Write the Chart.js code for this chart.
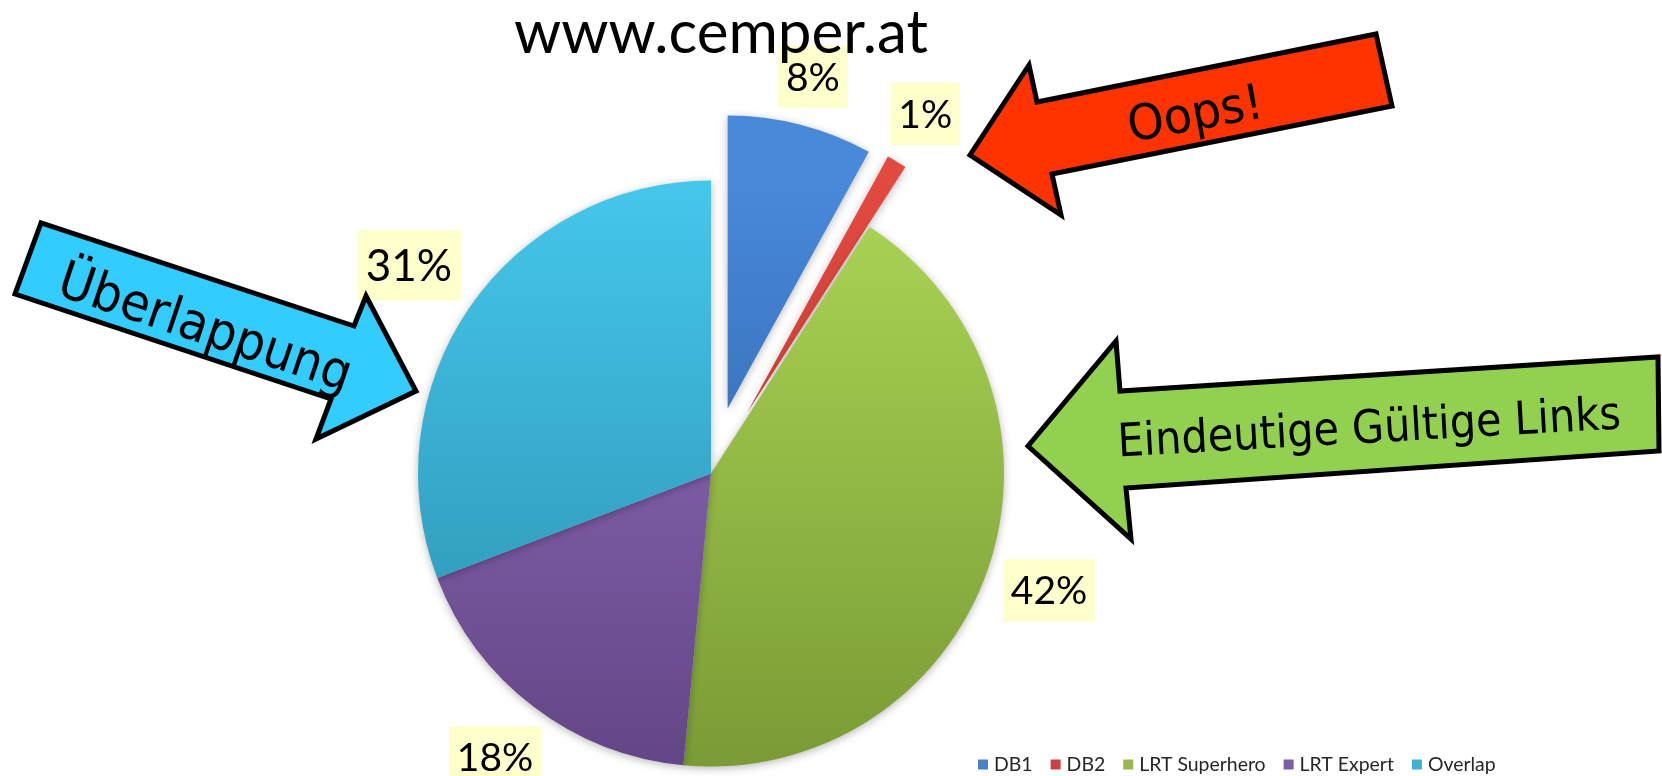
<!DOCTYPE html>
<html>
<head>
<meta charset="utf-8">
<script src="https://cdn.jsdelivr.net/npm/chart.js@4.4.1/dist/chart.umd.min.js"></script>
<style>
html,body{margin:0;padding:0;background:#fff;overflow:hidden;}
#c{display:block;}
</style>
</head>
<body>
<canvas id="c" width="1662" height="776"></canvas>
<script>
// ---- data ----
const chartTitle = 'www.cemper.at';
const categories = ['DB1', 'DB2', 'LRT Superhero', 'LRT Expert', 'Overlap'];
const shares = [8.0, 1.1, 42.4, 17.7, 30.8];

// ---- styles ----
const sliceTop    = ['#4889da', '#e24a40', '#acd656', '#9470c2', '#45c7ec'];
const sliceBottom = ['#285798', '#ae302a', '#7a9b35', '#634686', '#2a8dab'];
const legendColors = ['#4a80c6', '#c8433d', '#95b94c', '#7e5ea6', '#3fb0d0'];
const explode = [67, 70, 0, 0, 0];
const labelFont = [39, 39, 39, 39, 44];
const pieRadius = 293;

const arrows = [
  { text: 'Überlappung', fill: '#33CCFF',
    shape: [[41,223],[15,294],[331,399],[316,439],[416,391],[366,296],[354,326]],
    at: [200, 343], angle: 18.6, size: 52, width: 306 },
  { text: 'Oops!', fill: '#FF3300',
    shape: [[970,155],[1029,65],[1037,102],[1376,34],[1392,106],[1052,174],[1061,215]],
    at: [1198, 129.5], angle: -10.4, size: 49, width: 137 },
  { text: 'Eindeutige Gültige Links', fill: '#92D050',
    shape: [[1028,446],[1116,341],[1120,391],[1658,357],[1659,451],[1126,488],[1131,539]],
    at: [1370, 442.5], angle: -3.2, size: 46, width: 504 }
];

function sliceGradient(context) {
  const chart = context.chart;
  const area = chart.chartArea;
  const i = context.dataIndex;
  if (!area) return sliceTop[i];
  const cy = (area.top + area.bottom) / 2;
  const g = chart.ctx.createLinearGradient(0, cy - pieRadius, 0, cy + pieRadius);
  g.addColorStop(0, sliceTop[i]);
  g.addColorStop(1, sliceBottom[i]);
  return g;
}

const explodePlugin = {
  id: 'explodeSlices',
  afterDatasetUpdate(chart, args) {
    args.meta.data.forEach((arc, i) => {
      const d = explode[i] || 0;
      if (!d) return;
      const mid = (arc.startAngle + arc.endAngle) / 2;
      arc.x += Math.cos(mid) * d;
      arc.y += Math.sin(mid) * d;
    });
  }
};

const shadowPlugin = {
  id: 'sliceShadow',
  beforeDatasetDraw(chart) {
    const c = chart.ctx;
    c.save();
    c.shadowColor = 'rgba(0,0,0,0.28)';
    c.shadowBlur = 8;
    c.shadowOffsetY = 2;
  },
  afterDatasetDraw(chart) {
    chart.ctx.restore();
  }
};

const decorPlugin = {
  id: 'decor',
  afterDatasetsDraw(chart) {
    const c = chart.ctx;
    const meta = chart.getDatasetMeta(0);
    const total = shares.reduce((a, b) => a + b, 0);

    // percentage labels (outside end, yellow boxes)
    meta.data.forEach((arc, i) => {
      const p = arc.getProps(['x', 'y', 'startAngle', 'endAngle', 'outerRadius'], true);
      const mid = (p.startAngle + p.endAngle) / 2;
      const txt = Math.round(shares[i] / total * 100) + '%';
      const f = labelFont[i];
      c.save();
      c.font = f + 'px Lato';
      const tw = c.measureText(txt).width;
      const w = tw + f * 0.4, h = f * 1.6;
      const cs = Math.cos(mid), sn = Math.sin(mid);
      const d = p.outerRadius + 11 + Math.abs(cs) * w / 2 + Math.abs(sn) * h / 2;
      const cx = p.x + cs * d, cy = p.y + sn * d;
      c.fillStyle = '#FFFFCC';
      c.fillRect(cx - w / 2, cy - h / 2, w, h);
      c.fillStyle = '#000';
      c.textAlign = 'center';
      c.textBaseline = 'alphabetic';
      c.fillText(txt, cx, cy + f * 0.36);
      c.restore();
    });

    // arrows with text
    arrows.forEach(a => {
      c.save();
      c.beginPath();
      a.shape.forEach((pt, k) => k ? c.lineTo(pt[0], pt[1]) : c.moveTo(pt[0], pt[1]));
      c.closePath();
      c.fillStyle = a.fill;
      c.fill();
      c.lineWidth = 5;
      c.lineJoin = 'miter';
      c.strokeStyle = '#000';
      c.stroke();
      c.translate(a.at[0], a.at[1]);
      c.rotate(a.angle * Math.PI / 180);
      c.font = a.size + 'px "DejaVu Sans"';
      const m = c.measureText(a.text).width;
      c.scale(a.width / m, 1);
      c.textAlign = 'center';
      c.textBaseline = 'alphabetic';
      c.fillStyle = '#000';
      c.fillText(a.text, 0, 0);
      c.restore();
    });

    // title
    c.save();
    c.font = '100px Lato';
    const tW = c.measureText(chartTitle).width;
    const tSize = 100 * 414 / tW;
    c.font = tSize + 'px Lato';
    c.fillStyle = '#000';
    c.textAlign = 'center';
    c.textBaseline = 'alphabetic';
    c.fillText(chartTitle, 721, 53);
    c.restore();

    // legend
    c.save();
    const key = 10, keyGap = 6, itemGap = 18, legendW = 518;
    c.font = '20px Lato';
    const raw = categories.map(s => c.measureText(s).width);
    const rawSum = raw.reduce((a, b) => a + b, 0);
    const fixed = categories.length * (key + keyGap) + (categories.length - 1) * itemGap;
    const lf = 20 * (legendW - fixed) / rawSum;
    c.font = lf + 'px Lato';
    let x = 978;
    const ly = 765;
    categories.forEach((s, i) => {
      c.fillStyle = legendColors[i];
      c.fillRect(x, ly - key / 2 - 0.5, key, key);
      x += key + keyGap;
      c.fillStyle = '#262626';
      c.textAlign = 'left';
      c.textBaseline = 'middle';
      c.fillText(s, x, ly);
      x += c.measureText(s).width + itemGap;
    });
    c.restore();
  }
};

new Chart(document.getElementById('c'), {
  type: 'pie',
  data: {
    labels: categories,
    datasets: [{
      data: shares,
      backgroundColor: sliceGradient,
      borderWidth: 0,
      radius: pieRadius,
      clip: false,
      hoverOffset: 0
    }]
  },
  options: {
    responsive: false,
    animation: false,
    events: [],
    devicePixelRatio: 1,
    layout: { padding: { left: 0, right: 240, top: 171, bottom: 0 } },
    plugins: {
      legend: { display: false },
      title: { display: false },
      tooltip: { enabled: false }
    }
  },
  plugins: [explodePlugin, shadowPlugin, decorPlugin]
});
</script>
</body>
</html>
